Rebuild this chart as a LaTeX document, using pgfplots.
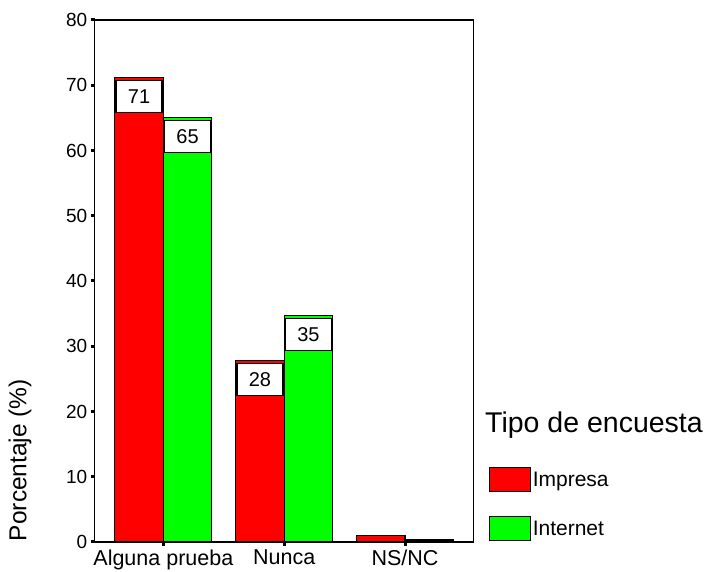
\documentclass[border=0pt]{standalone}
\usepackage{pgfplots}
\pgfplotsset{compat=1.18}
\usepackage{fontspec}
\setmainfont{Liberation Sans}

\definecolor{spssred}{RGB}{255,0,0}
\definecolor{spssgreen}{RGB}{0,255,0}

\pgfplotsset{
    barlabel/.style={
        nodes near coords={\pgfmathprintnumber[fixed,precision=0]{\pgfplotspointmeta}},
        nodes near coords style={anchor=north, yshift=-2.5pt, fill=white,
            draw=black, line width=1.2pt, minimum width=46pt,
            minimum height=32pt, inner sep=0pt,
            font=\fontsize{20}{22}\selectfont},
    },
}

\begin{document}
\begin{tikzpicture}
\begin{axis}[
    name=ax,
    scale only axis,
    width=379pt, height=522pt,
    ybar=0pt, bar width=48.5pt,
    xmin=-0.568, xmax=2.568,
    ymin=0, ymax=80,
    xtick={0,1,2},
    xticklabels={Alguna prueba, Nunca, NS/NC},
    ytick={0,10,...,80},
    tick pos=left, tick align=outside,
    major tick length=4pt,
    tick style={black, line width=3pt},
    axis line style={black, line width=1.5pt},
    /pgf/number format/assume math mode=true,
    yticklabel style={font=\fontsize{19}{21}\selectfont},
    xticklabel style={font=\fontsize{21.5}{23}\selectfont},
    ylabel={Porcentaje (\%)},
    ylabel style={font=\fontsize{24.5}{26}\selectfont,
        at={(axis description cs:-0.197,0.157)}, anchor=center},
    legend style={at={(axis description cs:1.04,0.144)}, anchor=north west,
        draw=none, fill=none, inner sep=0pt, row sep=24pt,
        font=\fontsize{21}{23}\selectfont,
        cells={anchor=west}, nodes={inner sep=1.5pt}},
    legend image code/.code={\draw[#1, line width=1.2pt] (0pt,-12pt) rectangle (41pt,12pt);},
]
% Impresa
\addplot[fill=spssred, draw=black, line width=1.2pt, bar shift=-24.25pt, barlabel]
    coordinates {(0,71.2) (1,27.8)};
% Internet
\addplot[fill=spssgreen, draw=black, line width=1.2pt, bar shift=24.25pt, barlabel]
    coordinates {(0,65.1) (1,34.7)};
% NS/NC (too small for a label)
\addplot[fill=spssred, draw=black, line width=1.2pt, bar shift=-24.25pt, forget plot]
    coordinates {(2,1.0)};
\addplot[fill=spssgreen, draw=black, line width=1.2pt, bar shift=24.25pt, forget plot]
    coordinates {(2,0.3)};
\legend{Impresa, Internet}
\end{axis}
\node[anchor=west, font=\fontsize{28.5}{30}\selectfont, inner sep=0pt]
    at ([xshift=11.3pt, yshift=-405pt]ax.north east) {Tipo de encuesta};
\pgfresetboundingbox
\path[use as bounding box] ([xshift=-94.7pt,yshift=-30pt]ax.south west)
    rectangle ([xshift=230.3pt,yshift=20pt]ax.north east);
\end{tikzpicture}
\end{document}
